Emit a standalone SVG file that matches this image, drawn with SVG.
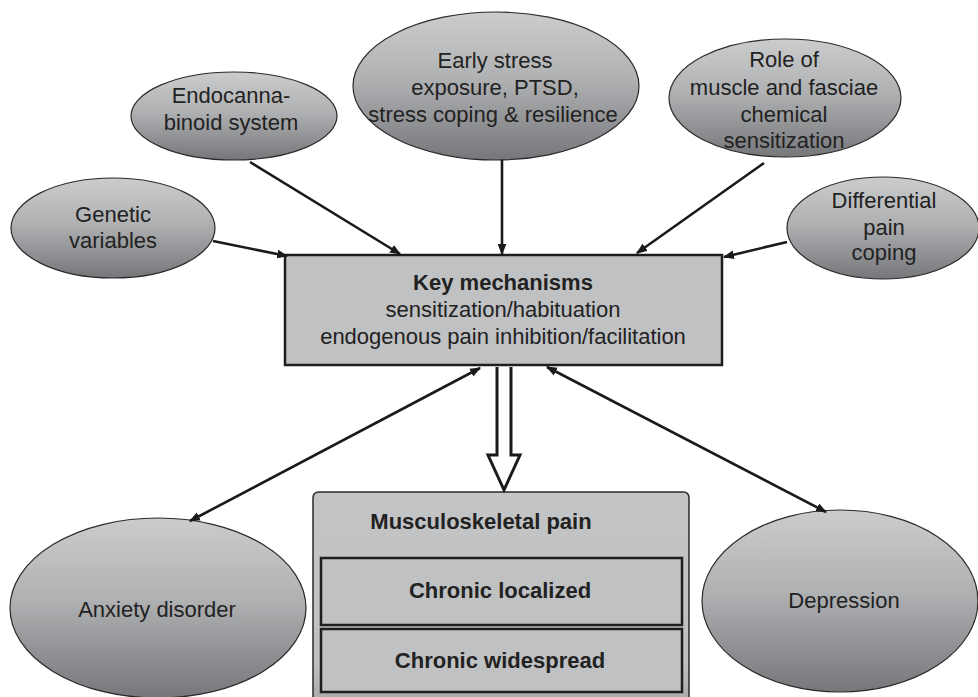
<svg xmlns="http://www.w3.org/2000/svg" width="978" height="697" viewBox="0 0 978 697">
<defs>
<linearGradient id="eg" x1="0" y1="0" x2="0" y2="1">
<stop offset="0" stop-color="#cbcccd"/>
<stop offset="0.45" stop-color="#b0b1b3"/>
<stop offset="1" stop-color="#76777a"/>
</linearGradient>
<linearGradient id="mg" x1="0" y1="0" x2="0" y2="1">
<stop offset="0" stop-color="#c3c4c6"/>
<stop offset="0.8" stop-color="#bfc0c2"/>
<stop offset="1" stop-color="#a9aaac"/>
</linearGradient>
<marker id="ah" viewBox="0 0 10 8" refX="9" refY="4" markerWidth="11" markerHeight="9" markerUnits="userSpaceOnUse" orient="auto-start-reverse">
<path d="M0,0 L10,4 L0,8 z" fill="#1a1a1a"/>
</marker>
</defs>
<style>
.ell{fill:url(#eg);stroke:#2a2a2a;stroke-width:1.2}
.t{font-family:"Liberation Sans",Arial,sans-serif;font-size:22px;fill:#222;text-anchor:middle}
.b{font-weight:bold}
.con{stroke:#1a1a1a;stroke-width:2.6;fill:none}
.box{fill:#c0c1c3;stroke:#1e1e1e;stroke-width:2.5}
</style>
<rect width="978" height="697" fill="#fff"/>

<g id="genetic">
<ellipse class="ell" cx="113" cy="228" rx="102" ry="50"/>
<text class="t" x="113" y="222">Genetic</text>
<text class="t" x="113" y="248">variables</text>
</g>
<g id="endocannabinoid">
<ellipse class="ell" cx="234" cy="116" rx="103" ry="44"/>
<text class="t" x="231" y="103">Endocanna-</text>
<text class="t" x="231" y="130">binoid system</text>
</g>
<g id="early-stress">
<ellipse class="ell" cx="496" cy="86" rx="143" ry="74"/>
<text class="t" x="495" y="68">Early stress</text>
<text class="t" x="495" y="95">exposure, PTSD,</text>
<text class="t" x="493" y="122">stress coping &amp; resilience</text>
</g>
<g id="muscle-fasciae">
<ellipse class="ell" cx="785" cy="98" rx="116" ry="59"/>
<text class="t" x="784" y="67">Role of</text>
<text class="t" x="784" y="95">muscle and fasciae</text>
<text class="t" x="784" y="122">chemical</text>
<text class="t" x="784" y="148">sensitization</text>
</g>
<g id="differential">
<ellipse class="ell" cx="883" cy="228" rx="96" ry="51"/>
<text class="t" x="884" y="208">Differential</text>
<text class="t" x="884" y="235">pain</text>
<text class="t" x="884" y="260">coping</text>
</g>
<g id="key-mechanisms">
<rect class="box" x="285" y="255" width="437" height="110"/>
<text class="t b" x="503" y="290">Key mechanisms</text>
<text class="t" x="503" y="317">sensitization/habituation</text>
<text class="t" x="503" y="344">endogenous pain inhibition/facilitation</text>
</g>
<g id="anxiety">
<ellipse class="ell" cx="158" cy="608" rx="148" ry="90"/>
<text class="t" x="157" y="617">Anxiety disorder</text>
</g>
<g id="depression">
<ellipse class="ell" cx="840" cy="601" rx="138" ry="91"/>
<text class="t" x="844" y="608">Depression</text>
</g>
<g id="musculoskeletal">
<path d="M313,702 L313,498 Q313,492 319,492 L683,492 Q689,492 689,498 L689,702" fill="url(#mg)" stroke="#2a2a2a" stroke-width="1.5"/>
<text class="t b" x="481" y="529">Musculoskeletal pain</text>
<g id="chronic-localized">
<rect x="321" y="558" width="361" height="67" fill="#c0c1c3" stroke="#1e1e1e" stroke-width="2.5"/>
<text class="t b" x="500" y="598">Chronic localized</text>
</g>
<g id="chronic-widespread">
<rect x="321" y="629" width="361" height="63" fill="#c0c1c3" stroke="#1e1e1e" stroke-width="2.5"/>
<text class="t b" x="500" y="668">Chronic widespread</text>
</g>
</g>

<g id="connectors">
<line class="con" x1="213" y1="241" x2="287" y2="256" marker-end="url(#ah)"/>
<line class="con" x1="250" y1="162" x2="400" y2="254" marker-end="url(#ah)"/>
<line class="con" x1="502" y1="160" x2="502" y2="254" marker-end="url(#ah)"/>
<line class="con" x1="764" y1="163" x2="637" y2="253" marker-end="url(#ah)"/>
<line class="con" x1="787" y1="242" x2="724" y2="257" marker-end="url(#ah)"/>
<line class="con" x1="480" y1="368" x2="190" y2="521" marker-start="url(#ah)" marker-end="url(#ah)"/>
<line class="con" x1="547" y1="367" x2="826" y2="512" marker-start="url(#ah)" marker-end="url(#ah)"/>
<path d="M497,367 L497,455 L488,455 L504,490 L520,455 L511,455 L511,367" fill="#fff" stroke="#1a1a1a" stroke-width="3" stroke-linejoin="miter"/>
</g>
</svg>
